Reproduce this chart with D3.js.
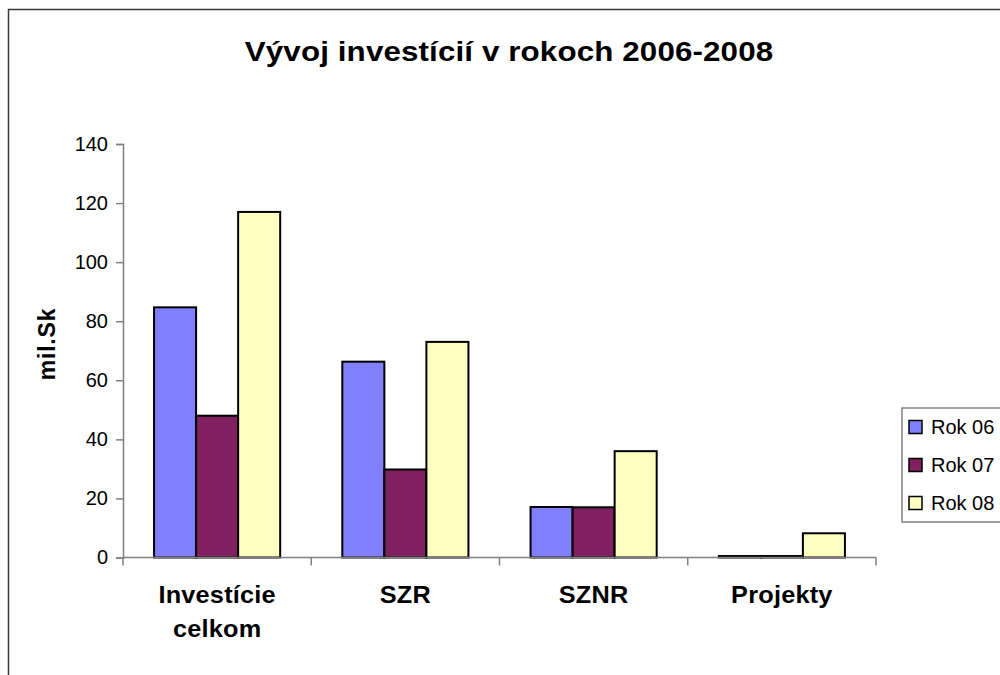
<!doctype html>
<html lang="sk">
<head>
  <meta charset="UTF-8">
  <title>Vývoj investícií</title>
  <script src="https://cdn.jsdelivr.net/npm/d3@7"></script>
  <style>
    body { margin: 0; background: #fff; }
    text { font-family: "Liberation Sans", Arial, sans-serif; fill: #000; }
  </style>
</head>
<body>
<div id="chart"></div>
<script>
// data (mil. Sk)
var categories = [['Investície', 'celkom'], ['SZR'], ['SZNR'], ['Projekty']];
var series = ['Rok 06', 'Rok 07', 'Rok 08'];
var rok06 = [84.7, 66.3, 17.1, 0.5];
var rok07 = [48, 29.8, 17, 0.5];
var rok08 = [117, 73, 36, 8.2];
var yTicks = [0, 20, 40, 60, 80, 100, 120, 140];
var colors = ['#8080FF', '#802060', '#FFFFC0'];

var values = [rok06, rok07, rok08];
var W = 1000, H = 675;
var pLeft = 123, pRight = 876, pTop = 144, pBottom = 557.5;

var svg = d3.select('#chart').append('svg')
  .attr('width', W).attr('height', H);

// outer frame (only top and left visible)
svg.append('path')
  .attr('d', 'M8.5,' + H + 'V9.5H' + W)
  .attr('fill', 'none').attr('stroke', '#3a3a3a').attr('stroke-width', 1.5);

// title, glyphs stretched a bit wider like the original
svg.append('text')
  .attr('transform', 'translate(509,61) scale(1.12,1)')
  .attr('text-anchor', 'middle')
  .style('font-size', '28px').style('font-weight', 'bold')
  .style('letter-spacing', '0.1px')
  .text('Vývoj investícií v rokoch 2006-2008');

var keys = categories.map(function(c) { return c.join(' '); });
var x0 = d3.scaleBand().domain(keys).range([pLeft, pRight]);
var gp = x0.bandwidth() * 0.165;
var x1 = d3.scaleBand().domain(series).range([gp, x0.bandwidth() - gp]);
var y = d3.scaleLinear().domain([0, 140]).range([pBottom, pTop]);

// bars
var groups = svg.selectAll('.cat').data(keys).enter().append('g')
  .attr('class', 'cat')
  .attr('transform', function(d) { return 'translate(' + x0(d) + ',0)'; });

groups.selectAll('rect')
  .data(function(d, i) { return series.map(function(s, j) { return {s: s, v: values[j][i], c: colors[j]}; }); })
  .enter().append('rect')
  .attr('x', function(d) { return x1(d.s); })
  .attr('y', function(d) { return y(d.v); })
  .attr('width', x1.bandwidth())
  .attr('height', function(d) { return pBottom - y(d.v); })
  .attr('fill', function(d) { return d.c; })
  .attr('stroke', '#000').attr('stroke-width', 2);

// y axis
var yAxis = svg.append('g')
  .attr('transform', 'translate(' + pLeft + ',0)')
  .call(d3.axisLeft(y).tickValues(yTicks).tickSize(7).tickPadding(8));
yAxis.select('.domain').attr('stroke', '#808080').attr('stroke-width', 1.5);
yAxis.selectAll('.tick line').attr('stroke', '#808080').attr('stroke-width', 1.5);
yAxis.selectAll('.tick text')
  .style('font-size', '20px').style('font-family', '"Liberation Sans", Arial, sans-serif')
  .attr('fill', '#000');

// x axis (ticks at band edges)
var xEdges = keys.map(function(k) { return x0(k); }).concat([pRight]);
var xAxis = svg.append('g').attr('transform', 'translate(0,' + pBottom + ')');
xAxis.append('line').attr('x1', pLeft).attr('x2', pRight)
  .attr('stroke', '#808080').attr('stroke-width', 1.5);
xAxis.selectAll('.xt').data(xEdges).enter().append('line')
  .attr('x1', function(d) { return d; }).attr('x2', function(d) { return d; })
  .attr('y1', 0).attr('y2', 8)
  .attr('stroke', '#808080').attr('stroke-width', 1.5);

var labels = svg.selectAll('.xl').data(categories).enter().append('text')
  .attr('class', 'xl')
  .attr('text-anchor', 'middle')
  .attr('transform', function(d, i) { return 'translate(' + (x0(keys[i]) + x0.bandwidth() / 2) + ',603) scale(1.1,1)'; })
  .style('font-size', '23px').style('font-weight', 'bold')
  .style('letter-spacing', '0.2px');
labels.selectAll('tspan').data(function(d) { return d; })
  .enter().append('tspan')
  .attr('x', 0)
  .attr('y', function(d, i) { return i * 34.5; })
  .text(function(d) { return d; });

// y axis title
svg.append('text')
  .attr('transform', 'translate(55,344) rotate(-90)')
  .attr('text-anchor', 'middle')
  .style('font-size', '23px').style('font-weight', 'bold')
  .style('letter-spacing', '0.8px')
  .text('mil.Sk');

// legend
var lg = svg.append('g').attr('transform', 'translate(902,408)');
lg.append('rect').attr('width', 110).attr('height', 114)
  .attr('fill', '#fff').attr('stroke', '#808080').attr('stroke-width', 1.5);
var li = lg.selectAll('.li').data(series).enter().append('g')
  .attr('transform', function(d, i) { return 'translate(7,' + (19 + i * 38) + ')'; });
li.append('rect').attr('x', 0).attr('y', -6.5).attr('width', 13).attr('height', 13)
  .attr('fill', function(d, i) { return colors[i]; })
  .attr('stroke', '#000').attr('stroke-width', 1.5);
li.append('text').attr('x', 22).attr('y', 7)
  .style('font-size', '20px')
  .text(function(d) { return d; });
</script>
</body>
</html>
